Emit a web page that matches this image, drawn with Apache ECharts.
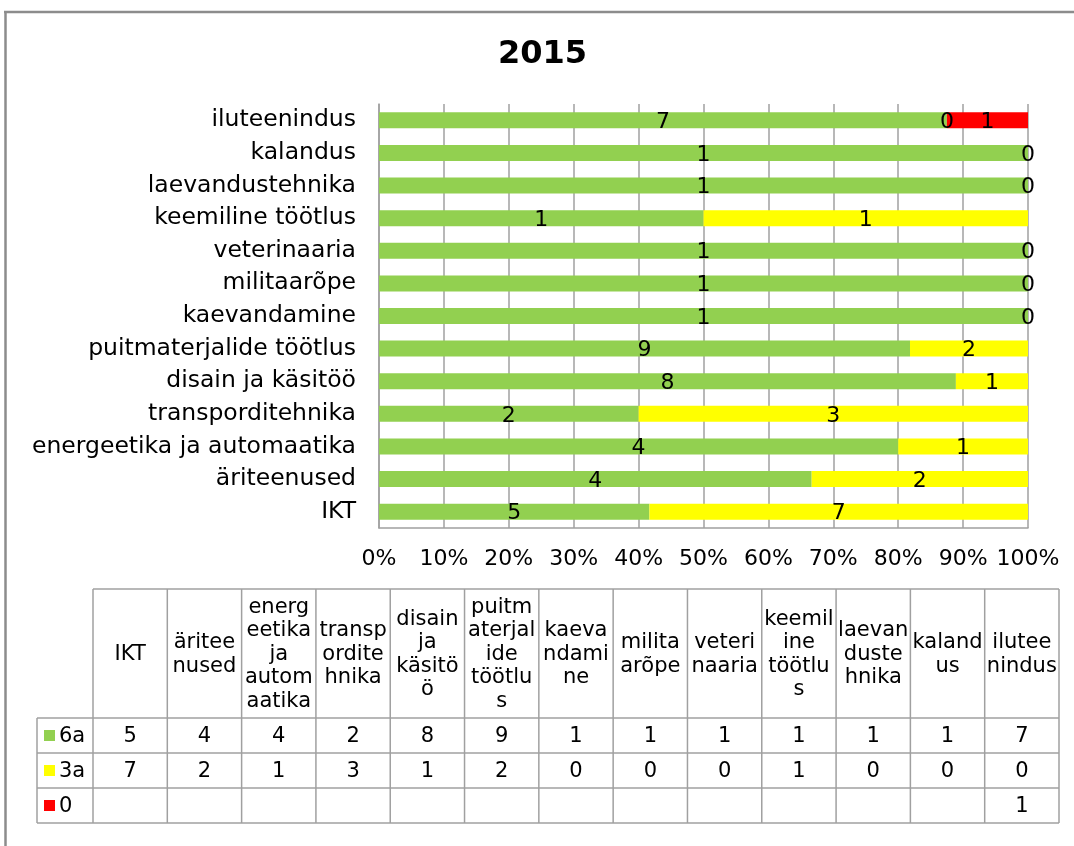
<!DOCTYPE html>
<html>
<head>
<meta charset="utf-8">
<script src="https://cdn.jsdelivr.net/npm/echarts@6/dist/echarts.min.js"></script>
<style>
  html, body { margin: 0; padding: 0; background: #fff; }
  #chart { width: 1074px; height: 846px; }
</style>
</head>
<body>
<div id="chart"></div>
<script>
// categories from bottom to top (same order as table columns)
const categories = ['IKT', 'äriteenused', 'energeetika ja automaatika', 'transporditehnika',
  'disain ja käsitöö', 'puitmaterjalide töötlus', 'kaevandamine', 'militaarõpe',
  'veterinaaria', 'keemiline töötlus', 'laevandustehnika', 'kalandus', 'iluteenindus'];
// table header text as wrapped in the data table
const tableHeaders = ['IKT', 'äritee\nnused', 'energ\neetika\nja\nautom\naatika', 'transp\nordite\nhnika',
  'disain\nja\nkäsitö\nö', 'puitm\naterjal\nide\ntöötlu\ns', 'kaeva\nndami\nne', 'milita\narõpe',
  'veteri\nnaaria', 'keemil\nine\ntöötlu\ns', 'laevan\nduste\nhnika', 'kaland\nus', 'ilutee\nnindus'];
const seriesNames = ['6a', '3a', '0'];
const s6a = [5, 4, 4, 2, 8, 9, 1, 1, 1, 1, 1, 1, 7];
const s3a = [7, 2, 1, 3, 1, 2, 0, 0, 0, 1, 0, 0, 0];
const s0 = [null, null, null, null, null, null, null, null, null, null, null, null, 1];
const colors = ['#92d050', '#ffff00', '#ff0000'];
const xTicks = [0, 10, 20, 30, 40, 50, 60, 70, 80, 90, 100];

const raw = [s6a, s3a, s0];
const totals = categories.map((c, i) => raw.reduce((a, s) => a + (s[i] || 0), 0));

const chart = echarts.init(document.getElementById('chart'));
const FONT = 'DejaVu Sans';
const gridColor = '#a0a0a0';

const series = raw.map((vals, k) => ({
  name: seriesNames[k],
  type: 'bar',
  stack: 'total',
  barWidth: 16,
  itemStyle: { color: colors[k] },
  label: {
    show: true,
    position: 'inside',
    color: '#000',
    fontFamily: FONT,
    fontSize: 22,
    textBorderWidth: 0,
    offset: [0, 2],
    formatter: p => vals[p.dataIndex]
  },
  data: vals.map((v, i) => v === null ? null : v / totals[i] * 100)
}));

// data table below the plot
const tX0 = 37, cX0 = 93, cX1 = 1059, tY0 = 589, headBottom = 718, rowH = 35;
const colW = (cX1 - cX0) / categories.length;
const gfx = [];
const line = (x1, y1, x2, y2, c, w) => gfx.push({
  type: 'line', silent: true,
  shape: { x1, y1, x2, y2 },
  style: { stroke: c || gridColor, lineWidth: w || 1.5 }
});
// outer chart frame (top and left)
line(4, 12, 1080, 12, '#8c8c8c', 2.5);
line(5.5, 12, 5.5, 846, '#8c8c8c', 2.5);

line(cX0, tY0, cX1, tY0);
for (let r = 0; r <= 3; r++) line(tX0, headBottom + r * rowH, cX1, headBottom + r * rowH);
for (let i = 0; i <= categories.length; i++) line(cX0 + i * colW, tY0, cX0 + i * colW, headBottom + 3 * rowH);
line(tX0, headBottom, tX0, headBottom + 3 * rowH);

const tFont = '21px ' + FONT;
tableHeaders.forEach((h, i) => gfx.push({
  type: 'text', silent: true,
  x: cX0 + (i + 0.5) * colW, y: (tY0 + headBottom) / 2 + 1,
  style: { text: h, fill: '#000', font: tFont, align: 'center', verticalAlign: 'middle', lineHeight: 23.5 }
}));
raw.forEach((vals, k) => {
  const cy = headBottom + (k + 0.5) * rowH;
  gfx.push({ type: 'rect', silent: true, shape: { x: 44, y: cy - 5.5, width: 11, height: 11 }, style: { fill: colors[k] } });
  gfx.push({ type: 'text', silent: true, x: 59, y: cy + 1,
    style: { text: seriesNames[k], fill: '#000', font: tFont, align: 'left', verticalAlign: 'middle' } });
  vals.forEach((v, i) => {
    if (v === null) return;
    gfx.push({ type: 'text', silent: true, x: cX0 + (i + 0.5) * colW, y: cy + 1,
      style: { text: String(v), fill: '#000', font: tFont, align: 'center', verticalAlign: 'middle' } });
  });
});

chart.setOption({
  animation: false,
  backgroundColor: '#fff',
  title: {
    text: '2015',
    left: 493,
    top: 34,
    textStyle: { fontFamily: FONT, fontSize: 32, fontWeight: 'bold', color: '#000' }
  },
  grid: { left: 379, right: 46, top: 104, bottom: 318, containLabel: false },
  xAxis: {
    type: 'value',
    min: xTicks[0],
    max: xTicks[xTicks.length - 1],
    interval: 10,
    axisLine: { show: true, lineStyle: { color: gridColor, width: 1.5 } },
    axisTick: { show: false },
    splitLine: { show: true, lineStyle: { color: gridColor, width: 1.5 } },
    axisLabel: { formatter: '{value}%', color: '#000', fontFamily: FONT, fontSize: 22, margin: 20 }
  },
  yAxis: {
    type: 'category',
    data: categories,
    axisLine: { show: true, lineStyle: { color: gridColor, width: 1.5 } },
    axisTick: { show: false },
    axisLabel: { color: '#000', fontFamily: FONT, fontSize: 23.5, margin: 23 }
  },
  series: series,
  graphic: gfx
});
</script>
</body>
</html>
